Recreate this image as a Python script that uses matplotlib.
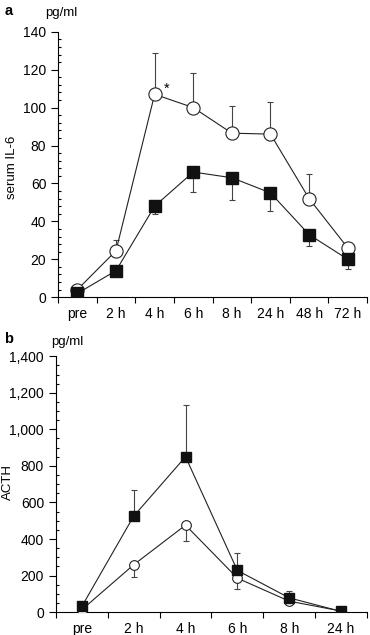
import numpy as np
import matplotlib.pyplot as plt
from matplotlib.ticker import MultipleLocator, FuncFormatter

plt.rcParams['font.family'] = ['Liberation Sans', 'DejaVu Sans']
plt.rcParams['font.size'] = 9.5

# panel a: serum IL-6
labels_a = ['pre', '2 h', '4 h', '6 h', '8 h', '24 h', '48 h', '72 h']
il6_open = [4, 24.5, 107, 100, 86.5, 86, 52, 26]
il6_open_err = [0, 5.5, 22, 18, 14.5, 17, 13, 0]
il6_filled = [2, 14, 48, 66, 63, 55, 33, 20]
il6_filled_err = [0, 0, 4, 10.5, 12, 9.5, 6, 5]

# panel b: ACTH
labels_b = ['pre', '2 h', '4 h', '6 h', '8 h', '24 h']
acth_open = [13, 259, 476, 186, 60, 6]
acth_open_err = [0, 69, 89, 60, 0, 0]
acth_filled = [31, 525, 850, 228, 78, 4]
acth_filled_err = [0, 141, 285, 97, 37, 0]

fig = plt.figure(figsize=(3.7, 6.35), dpi=100)
ax1 = fig.add_axes([0.157, 0.532, 0.835, 0.418])
ax2 = fig.add_axes([0.151, 0.036, 0.841, 0.403])


def draw(ax, labels, yo, eo, yf, ef, ms_o, ms_f):
    x = np.arange(len(labels))
    ekw = dict(fmt='none', ecolor='#444444', elinewidth=0.8, capsize=2.5, capthick=0.8, zorder=1)
    ax.errorbar(x, yo, yerr=eo, **ekw)
    ax.errorbar(x, yf, yerr=ef, **ekw)
    ax.plot(x, yo, '-', color='#222222', lw=0.8, marker='o', ms=ms_o,
            mfc='white', mec='#222222', mew=0.8, zorder=3)
    ax.plot(x, yf, '-', color='#222222', lw=0.8, marker='s', ms=ms_f,
            mfc='#111111', mec='#111111', zorder=4)
    ax.set_xlim(-0.5, len(labels) - 0.5)
    ax.set_xticks(x)
    ax.set_xticklabels(labels)
    ax.set_xticks(np.arange(len(labels) + 1) - 0.5, minor=True)
    ax.tick_params(axis='x', which='major', length=0, pad=7, labelsize=10)
    ax.tick_params(axis='x', which='minor', length=4, direction='out', width=0.8)
    ax.tick_params(axis='y', which='major', length=5, direction='out', width=0.8, labelsize=10)
    ax.tick_params(axis='y', which='minor', length=2.5, direction='in', width=0.8)
    for s in ['top', 'right']:
        ax.spines[s].set_visible(False)
    for s in ['left', 'bottom']:
        ax.spines[s].set_linewidth(0.8)


n_a = len(labels_a)
draw(ax1, labels_a, il6_open, [np.zeros(n_a), il6_open_err],
     il6_filled, [il6_filled_err, np.zeros(n_a)], 9.5, 8)
ax1.set_ylim(0, 140)
ax1.yaxis.set_major_locator(MultipleLocator(20))
ax1.yaxis.set_minor_locator(MultipleLocator(4))
ax1.set_ylabel('serum IL-6')
ax1.yaxis.set_label_coords(-0.13, 0.49)
ax1.text(2.3, 110, '*', fontsize=10.5, ha='center', va='center')

n_b = len(labels_b)
draw(ax2, labels_b, acth_open, [acth_open_err, np.zeros(n_b)],
     acth_filled, [np.zeros(n_b), acth_filled_err], 7, 7.5)
ax2.set_ylim(0, 1400)
ax2.yaxis.set_major_locator(MultipleLocator(200))
ax2.yaxis.set_minor_locator(MultipleLocator(50))
ax2.yaxis.set_major_formatter(FuncFormatter(lambda v, p: f'{int(v):,}'))
ax2.set_ylabel('ACTH')
ax2.yaxis.set_label_coords(-0.135, 0.51)

fig.text(0.012, 0.982, 'a', fontsize=10.5, fontweight='bold', va='center')
fig.text(0.122, 0.979, 'pg/ml', va='center')
fig.text(0.012, 0.466, 'b', fontsize=10.5, fontweight='bold', va='center')
fig.text(0.138, 0.461, 'pg/ml', va='center')

fig.savefig('out.png', dpi=100)
